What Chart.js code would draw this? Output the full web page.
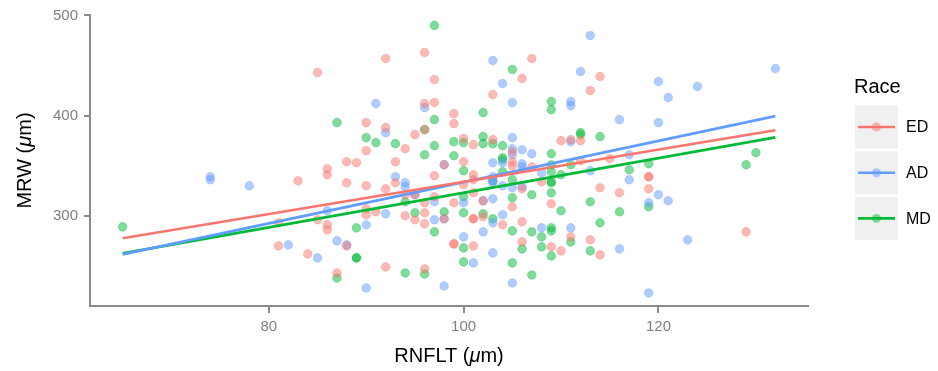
<!DOCTYPE html>
<html>
<head>
<meta charset="utf-8">
<script src="https://cdn.jsdelivr.net/npm/chart.js@4"></script>
<style>
  html, body { margin: 0; padding: 0; background: #fff; }
  #wrap { width: 938px; height: 371px; }
</style>
</head>
<body>
<div id="wrap"><canvas id="scatter" width="938" height="371"></canvas></div>
<script>
// RNFLT (x) vs MRW (y), one list of [x, y] per race group
const raceLabels = ['ED', 'AD', 'MD'];

const edPoints = [
  [81,293],[81,270],[83,335],[84,262],[85,443],[85,296],[86,347],[86,341],[86,291],[86,286],
  [87,243],[88,354],[88,333],[88,270],[89,353],[90,393],[90,365],[90,330],[90,307],[90,301],
  [91,304],[92,457],[92,388],[92,327],[92,249],[93,354],[93,333],[94,367],[94,321],[94,300],
  [95,381],[95,321],[95,296],[96,463],[96,412],[96,386],[96,313],[96,303],[96,292],[96,247],
  [97,436],[97,413],[97,340],[97,319],[98,351],[98,297],[99,402],[99,392],[99,313],[99,272],
  [99,272],[100,377],[100,354],[100,331],[101,371],[101,341],[101,336],[101,323],[101,297],[101,297],
  [101,270],[102,315],[102,299],[103,421],[103,376],[104,291],[105,364],[105,354],[105,350],[105,309],
  [106,437],[106,327],[106,294],[106,274],[107,457],[107,349],[108,334],[109,312],[109,269],[110,375],
  [110,265],[111,376],[111,279],[112,375],[112,355],[113,425],[113,276],[114,439],[114,328],[114,261],
  [115,357],[116,323],[119,339],[119,339],[119,327],[129,284]
];

const adPoints = [
  [74,339],[74,336],[78,330],[82,271],[85,258],[86,305],[87,275],[88,271],[90,291],[90,228],
  [91,412],[92,383],[92,302],[93,339],[94,333],[94,329],[95,321],[96,408],[97,314],[97,296],
  [98,351],[98,297],[98,230],[100,313],[100,279],[101,253],[102,315],[102,284],[103,455],[103,353],
  [103,339],[103,335],[103,333],[103,317],[103,293],[103,263],[104,432],[104,353],[104,330],[104,301],
  [105,413],[105,378],[105,367],[105,361],[105,328],[105,233],[106,366],[106,352],[106,349],[106,329],
  [107,362],[108,343],[108,288],[111,414],[111,410],[111,374],[111,288],[112,444],[113,480],[113,345],
  [116,396],[116,267],[117,361],[117,336],[119,313],[119,223],[120,434],[120,393],[120,321],[121,418],
  [121,315],[123,276],[124,429],[132,447]
];

const mdPoints = [
  [65,289],[87,393],[87,238],[89,288],[89,258],[89,258],[90,378],[91,373],[93,372],[94,314],
  [94,243],[95,303],[96,386],[96,361],[96,242],[97,490],[97,396],[97,370],[97,284],[98,304],
  [99,374],[99,360],[100,373],[100,345],[100,319],[100,303],[100,268],[100,254],[102,403],[102,379],
  [102,372],[102,302],[103,372],[103,297],[103,335],[104,370],[104,358],[104,356],[104,344],[105,446],
  [105,336],[105,318],[105,285],[105,253],[106,267],[107,321],[107,284],[107,241],[108,279],[108,269],
  [109,414],[109,406],[109,362],[109,351],[109,344],[109,334],[109,333],[109,323],[109,288],[109,285],
  [109,260],[110,341],[110,305],[111,351],[111,274],[112,383],[112,381],[113,314],[113,265],[114,379],
  [114,293],[116,304],[117,346],[119,352],[119,309],[129,351],[130,363]
];

// fitted lines, read at both ends of the x range
const fitX = [65, 132];
const edFit = [277.7, 385.3];
const adFit = [261.5, 399.5];
const mdFit = [262.5, 378.3];

const xTicks = [80, 100, 120];
const yTicks = [300, 400, 500];

const lineColors = ['#F8766D', '#619CFF', '#00BA38'];
const dotColors = ['rgba(248,118,109,0.5)', 'rgba(97,156,255,0.5)', 'rgba(0,186,56,0.5)'];
const ringColors = ['rgba(248,118,109,0.35)', 'rgba(97,156,255,0.35)', 'rgba(0,186,56,0.35)'];
const FONT = '"Liberation Sans", Arial, Helvetica, sans-serif';

const toXY = (pts) => pts.map(p => ({ x: p[0], y: p[1] }));
const fitLine = (ys) => fitX.map((x, i) => ({ x: x, y: ys[i] }));

const groups = [edPoints, adPoints, mdPoints];
const fits = [edFit, adFit, mdFit];

const datasets = [];
groups.forEach((pts, i) => {
  datasets.push({
    type: 'scatter',
    label: raceLabels[i],
    data: toXY(pts),
    backgroundColor: dotColors[i],
    borderColor: ringColors[i],
    borderWidth: 1,
    pointRadius: 4.3,
    pointHoverRadius: 4.3,
    order: 2
  });
});
fits.forEach((ys, i) => {
  datasets.push({
    type: 'line',
    label: raceLabels[i] + ' fit',
    data: fitLine(ys),
    borderColor: lineColors[i],
    borderWidth: 2.6,
    pointRadius: 0,
    fill: false,
    order: 1
  });
});

// draws a string in pieces, some italic, centred on cx
function mixedText(ctx, parts, cx, y, size) {
  const fonts = parts.map(p => (p[1] ? 'italic ' : '') + size + 'px ' + FONT);
  let total = 0;
  const widths = parts.map((p, i) => { ctx.font = fonts[i]; const w = ctx.measureText(p[0]).width; total += w; return w; });
  let x = cx - total / 2;
  parts.forEach((p, i) => { ctx.font = fonts[i]; ctx.fillText(p[0], x, y); x += widths[i]; });
}

const ggExtras = {
  id: 'ggExtras',
  afterDraw(chart) {
    const ctx = chart.ctx;
    const area = chart.chartArea;
    ctx.save();
    ctx.fillStyle = '#000';
    ctx.textAlign = 'left';
    ctx.textBaseline = 'alphabetic';

    // axis titles
    mixedText(ctx, [['RNFLT (', false], ['\u03BC', true], ['m)', false]], (area.left + area.right) / 2, 362, 20);
    ctx.save();
    ctx.translate(31, (area.top + area.bottom) / 2);
    ctx.rotate(-Math.PI / 2);
    mixedText(ctx, [['MRW (', false], ['\u03BC', true], ['m)', false]], 0, 0, 20);
    ctx.restore();

    // legend
    ctx.font = '20px ' + FONT;
    ctx.fillText('Race', 854, 93);
    raceLabels.forEach((name, i) => {
      const top = 105.5 + i * 45.7;
      const cy = top + 21.5;
      ctx.fillStyle = '#f0f0f0';
      ctx.fillRect(855, top, 43, 43);
      ctx.strokeStyle = lineColors[i];
      ctx.lineWidth = 2.6;
      ctx.beginPath();
      ctx.moveTo(858, cy);
      ctx.lineTo(895, cy);
      ctx.stroke();
      ctx.fillStyle = dotColors[i];
      ctx.beginPath();
      ctx.arc(876.5, cy, 4.5, 0, Math.PI * 2);
      ctx.fill();
      ctx.fillStyle = '#000';
      ctx.font = '16px ' + FONT;
      ctx.textBaseline = 'middle';
      ctx.fillText(name, 906, cy + 1);
      ctx.textBaseline = 'alphabetic';
    });
    ctx.restore();
  }
};

const axisGrey = '#8a8a8a';

new Chart(document.getElementById('scatter'), {
  data: { datasets: datasets },
  options: {
    responsive: false,
    animation: false,
    events: [],
    layout: { padding: { left: 0, top: 14, right: 130, bottom: 0 } },
    plugins: {
      legend: { display: false },
      tooltip: { enabled: false }
    },
    scales: {
      x: {
        type: 'linear',
        min: 61.65,
        max: 135.35,
        afterBuildTicks: (scale) => { scale.ticks = xTicks.map(v => ({ value: v })); },
        afterFit: (scale) => { scale.height = 65; },
        grid: { display: true, drawOnChartArea: false, drawTicks: true, tickLength: 7, color: axisGrey, lineWidth: 2 },
        border: { display: true, color: axisGrey, width: 2 },
        ticks: { color: '#7f7f7f', padding: 5, font: { size: 15, family: FONT } }
      },
      y: {
        type: 'linear',
        min: 210,
        max: 500.4,
        afterBuildTicks: (scale) => { scale.ticks = yTicks.map(v => ({ value: v })); },
        afterFit: (scale) => { scale.width = 90; },
        grid: { display: true, drawOnChartArea: false, drawTicks: true, tickLength: 6, color: axisGrey, lineWidth: 2 },
        border: { display: true, color: axisGrey, width: 2 },
        ticks: { color: '#7f7f7f', padding: 6, font: { size: 15, family: FONT } }
      }
    }
  },
  plugins: [ggExtras]
});
</script>
</body>
</html>
